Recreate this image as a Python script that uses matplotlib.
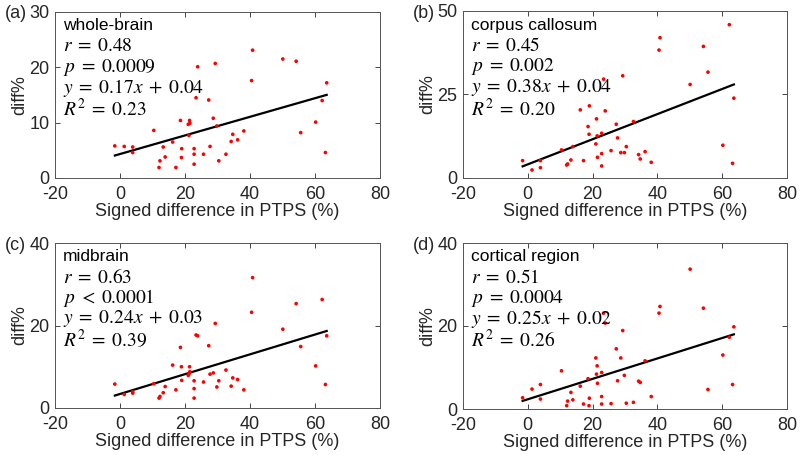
'''scatter of diff% vs signed PTPS difference, four brain regions'''
import numpy as np
import matplotlib
matplotlib.use('Agg')
import matplotlib.pyplot as plt
from matplotlib import rcParams
params = {'font.family': 'Liberation Sans', 'font.size': 13, 'mathtext.fontset': 'stix',
          'axes.unicode_minus': False}
rcParams.update(params)

# signed difference in PTPS (%), shared by all panels
ptps = [-1.6, 1.3, 3.9, 3.9, 10.4, 12.0, 12.3, 13.3, 13.9, 16.2, 17.2, 18.6, 18.9, 19.0,
        21.0, 21.2, 21.4, 21.5, 22.8, 22.8, 22.8, 23.4, 23.9, 25.7, 27.3, 27.7, 28.7, 29.3,
        29.8, 30.4, 32.6, 34.2, 34.7, 36.2, 38.1, 40.5, 40.8, 50.1, 54.2, 55.6, 60.2, 62.2,
        63.2, 63.6]

whole = [5.8, 5.7, 5.6, 4.6, 8.6, 1.9, 3.1, 5.6, 3.8, 6.5, 1.9, 10.4, 3.7, 5.3,
         9.7, 7.7, 10.4, 9.9, 5.3, 4.3, 2.5, 14.5, 20.1, 4.3, 14.1, 5.7, 10.8, 20.7,
         9.4, 3.1, 4.3, 6.6, 7.9, 6.9, 8.5, 17.6, 23.1, 21.5, 21.1, 8.2, 10.1, 14.0,
         4.6, 17.2]
corpus = [5.2, 2.4, 5.2, 3.1, 8.4, 3.9, 4.2, 5.4, 9.4, 20.4, 5.2, 15.4, 13.1, 21.6,
          10.2, 17.7, 12.6, 6.2, 13.4, 7.3, 3.6, 29.6, 20.1, 8.2, 16.1, 12.0, 7.6, 30.6,
          7.6, 9.4, 16.9, 7.0, 5.7, 7.9, 4.7, 38.3, 42.0, 28.0, 39.4, 31.7, 9.8, 45.9,
          4.4, 23.9]
midbrain = [5.8, 3.3, 3.6, 3.9, 5.9, 2.4, 2.8, 3.7, 5.2, 10.4, 4.4, 14.7, 10.0, 6.7,
            7.9, 8.2, 10.0, 8.8, 6.6, 4.7, 2.4, 17.7, 17.5, 6.3, 15.1, 8.2, 8.5, 20.5,
            5.1, 6.6, 9.2, 5.3, 7.3, 6.9, 4.4, 23.2, 31.6, 19.1, 25.3, 14.9, 10.2, 26.3,
            5.7, 17.5]
cortical = [2.7, 4.8, 5.9, 2.4, 9.2, 0.8, 1.9, 4.0, 2.2, 5.5, 1.2, 7.3, 0.8, 2.6,
            12.3, 8.4, 10.4, 6.2, 8.8, 3.0, 1.2, 23.1, 20.7, 1.3, 14.5, 6.8, 12.3, 18.9,
            8.1, 1.4, 1.6, 6.7, 6.4, 11.6, 3.0, 23.1, 24.7, 33.7, 24.3, 4.7, 13.0, 17.3,
            5.9, 19.8]

regions = ['whole-brain', 'corpus callosum', 'midbrain', 'cortical region']
letters = ['(a)', '(b)', '(c)', '(d)']
series = [whole, corpus, midbrain, cortical]
r_txt = ['0.48', '0.45', '0.63', '0.51']
p_txt = ['= 0.0009', '= 0.002', '< 0.0001', '= 0.0004']
fit_txt = ['0.17x + 0.04', '0.38x + 0.04', '0.24x + 0.03', '0.25x + 0.02']
r2_txt = ['0.23', '0.20', '0.39', '0.26']
yticks = [[0, 10, 20, 30], [0, 25, 50], [0, 20, 40], [0, 20, 40]]

# axes boxes in pixels (left, top, right, bottom) of an 800x455 canvas
W, H = 800, 455
boxes = [(55, 12, 380, 178), (463, 11, 787, 178), (55, 243, 380, 408), (463, 243, 787, 409)]

fig = plt.figure(figsize=(8, 4.55), dpi=100)
gc = '#262626'
x = np.array(ptps)

def sp(s):
    # widen gaps round relations and operators like a LaTeX interpreter does
    return s.replace(' ', '\\;')

for i in range(4):
    l, t, r, b = boxes[i]
    ax = fig.add_axes([l / W, 1 - b / H, (r - l) / W, (b - t) / H])
    y = np.array(series[i])

    ax.scatter(x, y, s=7, c='red', edgecolors='none', zorder=3)
    fits = np.polyfit(x, y, 1)
    xx = np.array([x.min(), x.max()])
    ax.plot(xx, xx * fits[0] + fits[1], c='k', linewidth=1.6, zorder=2)

    ax.set_xlim([-20, 80])
    ax.set_ylim([yticks[i][0], yticks[i][-1]])
    ax.set_xticks([-20, 0, 20, 40, 60, 80])
    ax.set_yticks(yticks[i])
    ax.tick_params(direction='in', top=True, right=True, colors=gc, labelsize=13,
                   length=3.5, width=0.6)
    ax.tick_params(axis='x', pad=6)
    ax.tick_params(axis='y', pad=4)
    for s in ax.spines.values():
        s.set_color('#555555')
        s.set_linewidth(0.7)

    ax.set_xlabel('Signed difference in PTPS (%)', color=gc, labelpad=0)
    ax.set_ylabel('diff%', color=gc, labelpad=1)

    x0 = 0.025
    ax.text(x0, 0.916, regions[i], transform=ax.transAxes, va='center', color='k', fontsize=12.5)
    ax.text(x0, 0.79, sp('$r = ' + r_txt[i] + '$'), transform=ax.transAxes, va='center', fontsize=14)
    ax.text(x0, 0.665, sp('$p ' + p_txt[i] + '$'), transform=ax.transAxes, va='center', fontsize=14)
    ax.text(x0, 0.54, sp('$y = ' + fit_txt[i] + '$'), transform=ax.transAxes, va='center', fontsize=14)
    ax.text(x0, 0.415, sp('$R^2 = ' + r2_txt[i] + '$'), transform=ax.transAxes, va='center', fontsize=14)

    fig.text((l - 50) / W, 1 - (t + 2) / H, letters[i], va='center', ha='left', color=gc, fontsize=13)

plt.savefig('out.png', dpi=100)
